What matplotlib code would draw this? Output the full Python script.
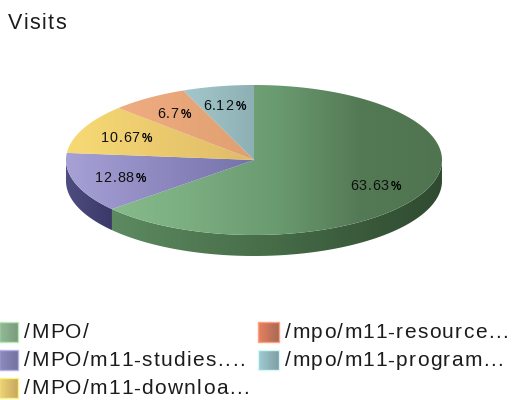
import matplotlib
matplotlib.use("Agg")
import matplotlib.pyplot as plt
import numpy as np
from matplotlib.colors import LinearSegmentedColormap
from matplotlib.font_manager import FontProperties
from matplotlib.patches import Polygon, Rectangle
from matplotlib.textpath import text_to_path

plt.rcParams['font.family'] = ['Liberation Sans', 'DejaVu Sans']

# data
pages = ['/MPO/', '/MPO/m11-studies....', '/MPO/m11-downloa...',
         '/mpo/m11-resource...', '/mpo/m11-program...']
shares = [63.63, 12.88, 10.67, 6.7, 6.12]
share_labels = ['63.63', '12.88', '10.67', '6.7', '6.12']

top_colors = [['#86bb8b', '#7aac80', '#6a9a70', '#547a55', '#4f744f'],
              ['#a6a2d6', '#7571aa'],
              ['#f7da74', '#dfba68'],
              ['#f0ac82', '#dfa070'],
              ['#a3c8cb', '#8eb0b5']]
rim_colors = [['#5d8a60', '#456b47', '#2f4a30'],
              ['#4f4c80', '#3b3968'],
              ['#b09a50', '#a08a45'],
              ['#b07a5a', '#a07050'],
              ['#6f9095', '#608085']]
legend_colors = [['#93bd97', '#7a9a7c', '#b8e8bc'],
                 ['#8e8cc0', '#74729e', '#b5b3ee'],
                 ['#edd577', '#c8a85e', '#fff080'],
                 ['#e88060', '#a86a55', '#ffa080'],
                 ['#a0cdd2', '#7f9ea5', '#d5f8f8']]

W, H = 513, 400
fig = plt.figure(figsize=(W / 100, H / 100), dpi=100, facecolor='white')
ax = fig.add_axes([0, 0, 1, 1])
ax.set_xlim(0, W)
ax.set_ylim(H, 0)
ax.axis('off')

cx, cy, rx, ry = 254, 160, 188, 75
depth = 21


def gradient(path_patch, colors, x0, x1, y0, y1, z):
    cmap = LinearSegmentedColormap.from_list('g', colors)
    im = ax.imshow(np.linspace(0, 1, 256).reshape(1, -1), cmap=cmap, aspect='auto',
                   extent=[x0, x1, y1, y0], zorder=z, interpolation='bilinear')
    path_patch.set(facecolor='none', edgecolor='none')
    ax.add_patch(path_patch)
    im.set_clip_path(path_patch)


def spaced_text(x, y, s, size, spacing, color='#1c1c1c', weight='normal'):
    # the original has wide letter spacing, so place the letters one by one
    fp = FontProperties(family='Liberation Sans', size=size, weight=weight)
    for k, ch in enumerate(s):
        w = text_to_path.get_text_width_height_descent(s[:k], fp, False)[0] if k else 0
        ax.text(x + w * 100 / 72 + k * spacing, y, ch, fontproperties=fp, color=color,
                ha='left', va='center_baseline', zorder=6)
    return x + text_to_path.get_text_width_height_descent(s, fp, False)[0] * 100 / 72 + len(s) * spacing


ends = 90 - np.cumsum([0] + shares) * 3.6

# side of the pie first, then the top faces
for i in range(len(shares)):
    t = np.radians(np.linspace(ends[i], ends[i + 1], 200))
    front = t[np.sin(t) <= 0]
    if len(front) < 2:
        continue
    xs = cx + rx * np.cos(front)
    ys = cy - ry * np.sin(front)
    pts = np.r_[np.c_[xs, ys], np.c_[xs[::-1], ys[::-1] + depth]]
    gradient(Polygon(pts, closed=True), rim_colors[i], xs.min(), xs.max(), cy, cy + ry + depth, 2)

for i in range(len(shares)):
    t = np.radians(np.linspace(ends[i], ends[i + 1], 200))
    xs = cx + rx * np.cos(t)
    ys = cy - ry * np.sin(t)
    pts = np.r_[[[cx, cy]], np.c_[xs, ys]]
    gradient(Polygon(pts, closed=True), top_colors[i], pts[:, 0].min(), pts[:, 0].max(),
             cy - ry, cy + ry, 3)

ax.set_xlim(0, W)
ax.set_ylim(H, 0)

# value labels
label_pos = [(350, 185), (95, 177), (101, 137), (157, 113), (203, 105)]
for (lx, ly), s in zip(label_pos, share_labels):
    end = spaced_text(lx, ly, s, 10.4, 0.6, color='#111111')
    spaced_text(end + 2, ly, '%', 8.5, 0, color='#000000', weight='bold')

spaced_text(8, 21, 'Visits', 15.5, 1.4)

# legend, filled by column
rows = [(-1, 19, 332), (-1, 19, 360), (-1, 19, 388), (258, 21, 332), (258, 21, 360)]
text_x = [24, 24, 24, 285, 285]
for (sx, sw, sy), tx, page, (c0, c1, edge) in zip(rows, text_x, pages, legend_colors):
    cmap = LinearSegmentedColormap.from_list('s', [c0, c1])
    ax.imshow(np.linspace(0, 1, 64).reshape(1, -1), cmap=cmap, aspect='auto',
              extent=[sx, sx + sw, sy + 10, sy - 10], zorder=3)
    ax.add_patch(Rectangle((sx, sy - 10), sw, 20, fill=False, edgecolor=edge, lw=1, zorder=4))
    spaced_text(tx, sy - 1, page, 15, 1.4)

ax.set_xlim(0, W)
ax.set_ylim(H, 0)
fig.savefig('out.png', dpi=100)
